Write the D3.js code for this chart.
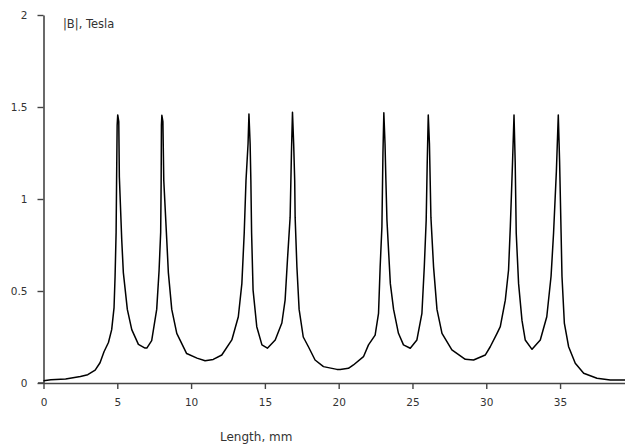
<!DOCTYPE html>
<html>
<head>
<meta charset="utf-8">
<script src="https://cdn.jsdelivr.net/npm/d3@7/dist/d3.min.js"></script>
<style>
html,body{margin:0;padding:0;background:#fff;}
svg{display:block;}
text{font-family:"DejaVu Sans",Verdana,sans-serif;fill:#333;}
</style>
</head>
<body>
<svg id="chart" width="625" height="445"></svg>
<script>
const lengthMm = [0.0,0.5,1.5,2.5,3.0,3.5,3.83,4.1,4.4,4.62,4.78,4.85,4.92,4.95,4.99,5.03,5.1,5.14,5.3,5.41,5.68,5.98,6.43,6.88,7.0,7.33,7.67,7.83,7.94,7.97,7.99,8.02,8.09,8.15,8.35,8.46,8.69,9.03,9.7,10.4,10.95,11.5,12.08,12.76,13.2,13.44,13.6,13.72,13.86,13.92,14.0,14.05,14.1,14.2,14.45,14.8,15.17,15.7,16.15,16.37,16.53,16.71,16.8,16.87,16.95,17.02,17.05,17.17,17.32,17.6,17.95,18.4,18.97,19.88,20.1,20.66,21.0,21.68,22.02,22.47,22.7,22.81,22.93,23.0,23.06,23.14,23.2,23.27,23.5,23.72,24.05,24.39,24.85,25.3,25.64,25.8,25.93,26.0,26.07,26.15,26.2,26.25,26.43,26.66,27.0,27.67,28.58,29.14,29.93,30.27,30.73,30.95,31.29,31.51,31.63,31.78,31.88,31.96,32.03,32.19,32.42,32.64,33.1,33.66,34.1,34.39,34.56,34.75,34.88,34.97,35.07,35.13,35.29,35.58,36.03,36.6,37.5,38.4,39.4];
const fieldT = [0.012,0.018,0.022,0.035,0.045,0.07,0.11,0.17,0.22,0.29,0.41,0.58,0.82,1.08,1.40,1.457,1.42,1.12,0.78,0.6,0.40,0.29,0.21,0.19,0.19,0.23,0.40,0.61,0.82,1.08,1.40,1.455,1.42,1.10,0.78,0.6,0.40,0.27,0.16,0.135,0.121,0.128,0.152,0.234,0.36,0.54,0.815,1.1,1.30,1.462,1.30,1.1,0.815,0.505,0.306,0.207,0.189,0.234,0.326,0.45,0.67,0.90,1.25,1.471,1.3,1.1,0.90,0.63,0.40,0.25,0.197,0.125,0.089,0.074,0.074,0.08,0.098,0.143,0.207,0.26,0.379,0.63,0.85,1.25,1.469,1.3,1.1,0.886,0.54,0.40,0.27,0.207,0.189,0.234,0.379,0.63,0.886,1.2,1.457,1.3,1.1,0.90,0.63,0.40,0.27,0.18,0.129,0.125,0.152,0.197,0.27,0.306,0.45,0.614,0.85,1.2,1.457,1.2,0.815,0.54,0.34,0.234,0.183,0.234,0.36,0.58,0.815,1.15,1.457,1.2,0.815,0.58,0.326,0.197,0.107,0.053,0.026,0.016,0.016];
const xTicks = [0,5,10,15,20,25,30,35];
const yTicks = [0,0.5,1,1.5,2];
const yTitle = "|B|, Tesla";
const xTitle = "Length, mm";

const svg = d3.select("#chart");
const x = d3.scaleLinear().domain([0, 39.4]).range([43.5, 625]);
const y = d3.scaleLinear().domain([0, 2]).range([383, 15]);

const xAxis = svg.append("g").attr("transform","translate(0,383)")
  .call(d3.axisBottom(x).tickValues(xTicks).tickFormat(d3.format("d")).tickSize(6).tickSizeOuter(0).tickPadding(10));
const yAxis = svg.append("g").attr("transform","translate(43.5,0)")
  .call(d3.axisLeft(y).tickValues(yTicks).tickFormat(d=>String(d)).tickSize(6).tickSizeOuter(0).tickPadding(10));
[xAxis,yAxis].forEach(a=>{
  a.select(".domain").attr("stroke","#444").attr("stroke-width",1.6);
  a.selectAll(".tick line").attr("stroke","#444").attr("stroke-width",1.4);
  a.selectAll(".tick text").attr("font-size","10.5px").attr("fill","#333").attr("font-family","DejaVu Sans, Verdana, sans-serif");
});
svg.append("line").attr("x1",38).attr("x2",44).attr("y1",383).attr("y2",383).attr("stroke","#444").attr("stroke-width",1.6);

const pts = lengthMm.map((d,i)=>[d,fieldT[i]]);
svg.append("path").datum(pts)
  .attr("fill","none").attr("stroke","#000").attr("stroke-width",1.5)
  .attr("stroke-linejoin","round")
  .attr("d", d3.line().x(d=>x(d[0])).y(d=>y(d[1])));

svg.append("text").attr("x",63).attr("y",28).attr("font-size","11.5px").text(yTitle);
svg.append("text").attr("x",220).attr("y",441).attr("font-size","12px").text(xTitle);
</script>
</body>
</html>
